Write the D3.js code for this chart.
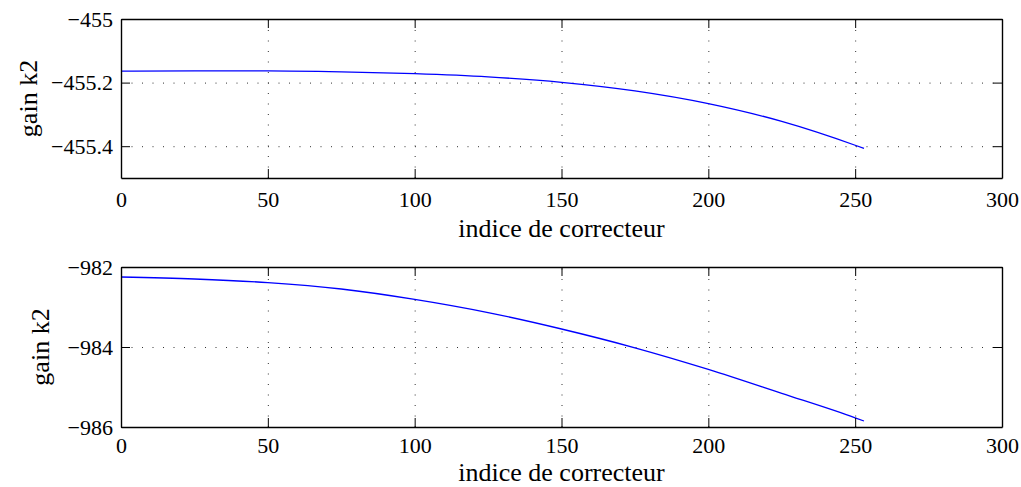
<!DOCTYPE html>
<html>
<head>
<meta charset="utf-8">
<script src="https://cdn.jsdelivr.net/npm/d3@7"></script>
<style>
  body { margin: 0; background: #fff; }
  svg { display: block; }
  text { font-family: "Liberation Serif", "Times New Roman", serif; fill: #000; }
  .grid line { stroke: #333; stroke-dasharray: 1,9.5; }
</style>
</head>
<body>
<div id="chart"></div>
<script>
// correcteur index and gain k2 values
const indices = [0, 25, 50, 75, 100, 125, 150, 175, 200, 225, 250, 253];
const gainTop = [-455.164, -455.163, -455.163, -455.166, -455.172, -455.182,
                 -455.199, -455.226, -455.266, -455.322, -455.397, -455.407];
const gainBottom = [-982.25, -982.30, -982.39, -982.55, -982.81, -983.14,
                    -983.55, -984.02, -984.56, -985.16, -985.77, -985.85];

const xTicks = [0, 50, 100, 150, 200, 250, 300];
const yTicksTop = [-455.4, -455.2, -455];
const yTicksBottom = [-986, -984, -982];

const width = 1021, height = 487;
const svg = d3.select('#chart').append('svg')
    .attr('width', width)
    .attr('height', height);

function panel(cfg) {
    const x = d3.scaleLinear().domain([0, 300]).range([121, 1002]);
    const y = d3.scaleLinear().domain(cfg.yDomain).range([cfg.bottom, cfg.top]);
    const h = cfg.bottom - cfg.top;
    const g = svg.append('g');
    const fmt = d => d3.format('')(d);

    // grid
    g.append('g')
        .attr('class', 'grid')
        .attr('transform', 'translate(0,' + cfg.bottom + ')')
        .call(d3.axisBottom(x).tickValues(xTicks.slice(1, -1)).tickSize(-h).tickFormat(''))
        .call(a => a.select('.domain').remove());
    g.append('g')
        .attr('class', 'grid')
        .attr('transform', 'translate(121,0)')
        .call(d3.axisLeft(y).tickValues(cfg.yTicks).tickSize(-881).tickFormat(''))
        .call(a => a.select('.domain').remove());

    // data line
    const line = d3.line()
        .x((d, i) => x(indices[i]))
        .y(d => y(d))
        .curve(d3.curveMonotoneX);
    g.append('path')
        .datum(cfg.values)
        .attr('fill', 'none')
        .attr('stroke', '#0000ff')
        .attr('stroke-width', 1.3)
        .attr('d', line);

    // axes with inward ticks
    const axes = [
        g.append('g').attr('transform', 'translate(0,' + cfg.bottom + ')')
            .call(d3.axisBottom(x).tickValues(xTicks).tickSizeInner(-9).tickSizeOuter(0).tickPadding(cfg.xPad)),
        g.append('g').attr('transform', 'translate(0,' + cfg.top + ')')
            .call(d3.axisTop(x).tickValues(xTicks).tickSizeInner(-9).tickSizeOuter(0).tickFormat('')),
        g.append('g').attr('transform', 'translate(121,0)')
            .call(d3.axisLeft(y).tickValues(cfg.yTicks).tickSizeInner(-9).tickSizeOuter(0).tickPadding(8).tickFormat(fmt)),
        g.append('g').attr('transform', 'translate(1002,0)')
            .call(d3.axisRight(y).tickValues(cfg.yTicks).tickSizeInner(-9).tickSizeOuter(0).tickFormat(''))
    ];
    axes.forEach(a => {
        a.attr('font-family', null);
        a.selectAll('text').attr('font-size', 22);
        a.selectAll('.domain').attr('stroke', '#000').attr('stroke-width', 1.4);
        a.selectAll('.tick line').attr('stroke', '#000').attr('stroke-width', 1);
    });

    g.append('text')
        .attr('x', x(150))
        .attr('y', cfg.bottom + cfg.xLabelGap)
        .attr('text-anchor', 'middle')
        .attr('font-size', 26)
        .text('indice de correcteur');

    g.append('text')
        .attr('transform', 'translate(' + cfg.labelX + ',' + ((cfg.top + cfg.bottom) / 2) + ') rotate(-90)')
        .attr('text-anchor', 'middle')
        .attr('font-size', 26)
        .text('gain k2');
}

panel({ top: 19, bottom: 178, yDomain: [-455.5, -455], yTicks: yTicksTop, values: gainTop, labelX: 37, xLabelGap: 59, xPad: 13 });
panel({ top: 267, bottom: 427, yDomain: [-986, -982], yTicks: yTicksBottom, values: gainBottom, labelX: 49, xLabelGap: 53.5, xPad: 10 });
</script>
</body>
</html>
